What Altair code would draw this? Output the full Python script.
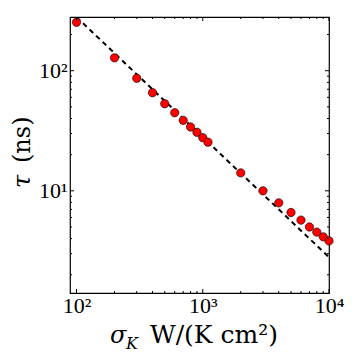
import altair as alt
import pandas as pd

# data
sigma = [100, 200, 300, 400, 500, 600, 700, 800, 900, 1000, 1100,
         2000, 3000, 4000, 5000, 6000, 7000, 8000, 9000, 10000]
tau = [253, 128, 86.5, 65.6, 53.1, 44.7, 38.6, 34.0, 30.7, 27.7, 25.4,
       14.1, 10.0, 7.94, 6.6, 5.7, 5.0, 4.53, 4.14, 3.83]
fit_sigma = [88.8, 10000]
fit_tau = [315, 2.8]

x_major = [100, 1000, 10000]
x_minor = [200, 300, 400, 500, 600, 700, 800, 900,
           2000, 3000, 4000, 5000, 6000, 7000, 8000, 9000]
y_major = [10, 100]
y_minor = [2, 3, 4, 5, 6, 7, 8, 9, 20, 30, 40, 50, 60, 70, 80, 90, 200]

W, H = 259, 276
XDOM = [88.8, 10000]
YDOM = [1.41, 280]
SERIF = "Liberation Serif"
TSERIF = "DejaVu Serif"

xs = alt.Scale(type="log", domain=XDOM, nice=False)
ys = alt.Scale(type="log", domain=YDOM, nice=False)

xlab = "datum.value == 100 ? '10\u00b2' : datum.value == 1000 ? '10\u00b3' : '10\u2074'"
ylab = "datum.value == 10 ? '10\u00b9' : '10\u00b2'"

XAX = alt.Axis(values=x_major, labelExpr=xlab, title=None, ticks=False, domain=False,
               grid=False, labelFont=SERIF, labelFontSize=22, labelColor="black",
               labelPadding=2, labelFlush=False, labelOverlap=False)
YAX = alt.Axis(values=y_major, labelExpr=ylab, title=None, ticks=False, domain=False,
               grid=False, labelFont=SERIF, labelFontSize=22, labelColor="black",
               labelPadding=3, labelOverlap=False)

pts_df = pd.DataFrame({"s": sigma, "t": tau})
fit_df = pd.DataFrame({"s": fit_sigma, "t": fit_tau})

fit = alt.Chart(fit_df).mark_line(
    color="black", strokeWidth=2, strokeDash=[5, 4], clip=True
).encode(
    x=alt.X("s:Q", scale=xs, axis=XAX),
    y=alt.Y("t:Q", scale=ys, axis=YAX),
)

pts = alt.Chart(pts_df).mark_point(
    filled=True, fill="#ff0000", stroke="black", strokeWidth=0.6,
    size=70, opacity=1, shape="circle"
).encode(
    x=alt.X("s:Q", scale=xs, axis=XAX),
    y=alt.Y("t:Q", scale=ys, axis=YAX),
)

def xticks(vals, length):
    d = pd.DataFrame({"s": vals})
    b = alt.Chart(d).mark_rule(color="black", strokeWidth=1).encode(
        x=alt.X("s:Q", scale=xs, axis=XAX),
        y=alt.value(H), y2=alt.value(H - length))
    t = alt.Chart(d).mark_rule(color="black", strokeWidth=1).encode(
        x=alt.X("s:Q", scale=xs, axis=XAX),
        y=alt.value(0), y2=alt.value(length))
    return [b, t]

def yticks(vals, length):
    d = pd.DataFrame({"t": vals})
    l = alt.Chart(d).mark_rule(color="black", strokeWidth=1).encode(
        y=alt.Y("t:Q", scale=ys, axis=YAX),
        x=alt.value(0), x2=alt.value(length))
    r = alt.Chart(d).mark_rule(color="black", strokeWidth=1).encode(
        y=alt.Y("t:Q", scale=ys, axis=YAX),
        x=alt.value(W), x2=alt.value(W - length))
    return [l, r]

tick_layers = xticks(x_major, 4) + xticks(x_minor, 2) + yticks(y_major, 4) + yticks(y_minor, 2)

def label(text, x, y, size, italic=False, angle=0, align="left", font=TSERIF):
    return alt.Chart(pd.DataFrame({"v": [text]})).mark_text(
        font=font, fontSize=size, fontStyle="italic" if italic else "normal",
        color="black", align=align, baseline="alphabetic", angle=angle
    ).encode(text="v:N", x=alt.value(x), y=alt.value(y))

titles = [
    label("\u03c3", 40, 326, 24, italic=True),
    label("K", 56, 332, 16, italic=True),
    label("W/(K cm\u00b2)", 80, 326, 25),
    label("\u03c4", -40, 171, 24, italic=True, angle=270),
    label("(ns)", -40, 146, 24, angle=270),
]

chart = alt.layer(fit, pts, *tick_layers, *titles).properties(
    width=W, height=H,
    autosize=alt.AutoSizeParams(type="none"),
    padding={"left": 62, "top": 9, "right": 17, "bottom": 60},
).configure_view(stroke="black", strokeWidth=1.2)

chart.save("out.html", embed_options={"renderer": "svg", "actions": False})
